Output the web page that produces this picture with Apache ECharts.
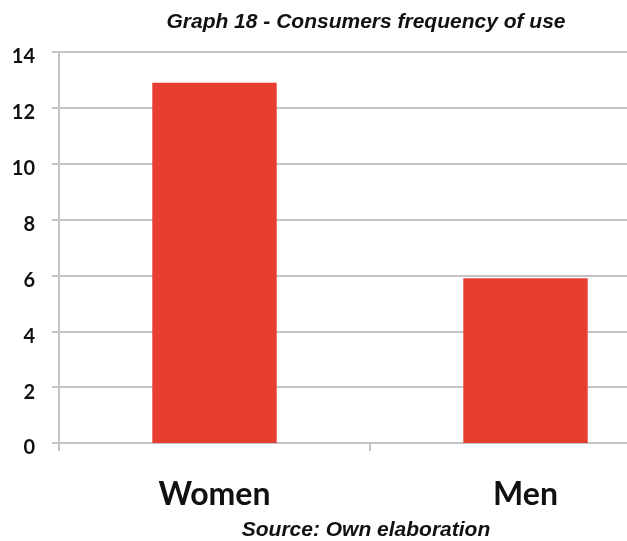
<!DOCTYPE html>
<html>
<head>
<meta charset="utf-8">
<style>
  html, body { margin: 0; padding: 0; background: #ffffff; }
  #chart { width: 627px; height: 541px; }
</style>
<script src="https://cdn.jsdelivr.net/npm/echarts@6/dist/echarts.min.js"></script>
</head>
<body>
<div id="chart"></div>
<script>
// Consumers frequency of use, by gender
const categories = ['Women', 'Men'];
const frequency = [12.9, 5.9];
const yTicks = { min: 0, max: 14, interval: 2 };

const chart = echarts.init(document.getElementById('chart'), null, { renderer: 'canvas' });

const gridGray = '#c4c4c4';

chart.setOption({
  animation: false,
  backgroundColor: '#ffffff',
  title: [
    {
      text: 'Graph 18 - Consumers frequency of use',
      left: 361,
      top: 7,
      textAlign: 'center',
      textStyle: {
        fontFamily: 'Liberation Sans',
        fontStyle: 'italic',
        fontWeight: 'bold',
        fontSize: 21,
        color: '#111111'
      }
    },
    {
      text: 'Source: Own elaboration',
      left: 361,
      top: 515,
      textAlign: 'center',
      textStyle: {
        fontFamily: 'Liberation Sans',
        fontStyle: 'italic',
        fontWeight: 'bold',
        fontSize: 21,
        color: '#111111'
      }
    }
  ],
  grid: {
    left: 59,
    top: 52,
    bottom: 98,
    right: -54,
    outerBoundsMode: 'none',
    containLabel: false
  },
  xAxis: {
    type: 'category',
    data: categories,
    boundaryGap: true,
    axisLine: { show: true, lineStyle: { color: gridGray, width: 2 } },
    axisTick: { show: true, length: 8, lineStyle: { color: gridGray, width: 2 } },
    axisLabel: {
      margin: 36,
      fontFamily: 'Lato',
      fontWeight: 'bold',
      fontSize: 32,
      color: '#111111'
    }
  },
  yAxis: {
    type: 'value',
    min: yTicks.min,
    max: yTicks.max,
    interval: yTicks.interval,
    axisLine: { show: true, lineStyle: { color: gridGray, width: 2 } },
    axisTick: { show: true, length: 7, lineStyle: { color: gridGray, width: 2 } },
    splitLine: { show: true, lineStyle: { color: gridGray, width: 2 } },
    axisLabel: {
      margin: 24,
      verticalAlign: 'top',
      lineHeight: 10,
      fontFamily: 'Lato',
      fontWeight: 'bold',
      fontSize: 20,
      color: '#111111'
    }
  },
  series: [
    {
      type: 'bar',
      data: frequency,
      barWidth: '40%',
      itemStyle: { color: '#e63e31' }
    }
  ]
});
</script>
</body>
</html>
